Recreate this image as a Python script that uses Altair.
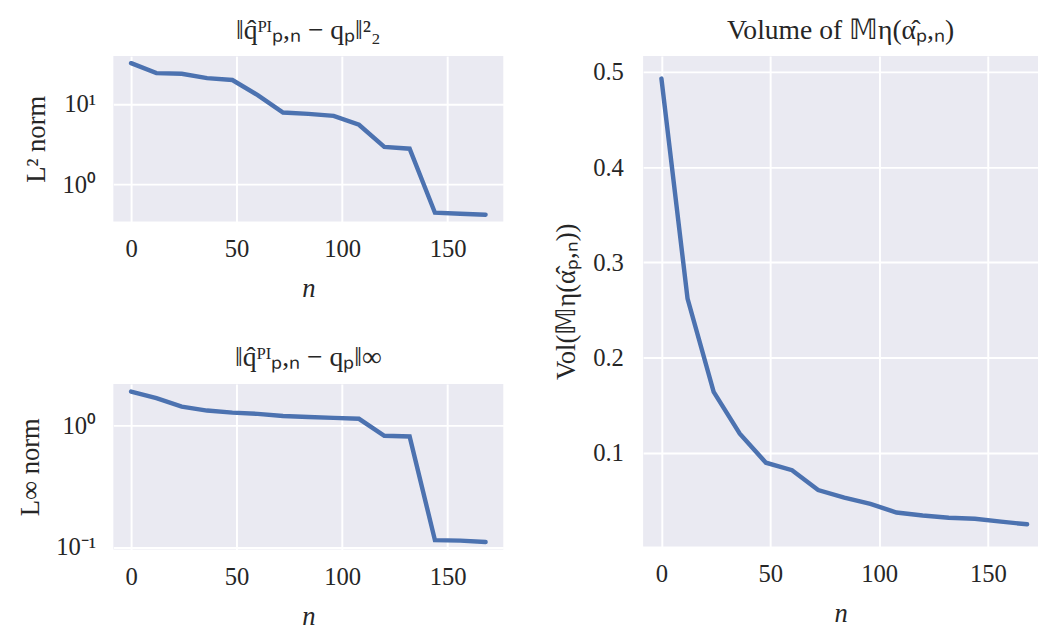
import altair as alt
import pandas as pd

# ---- data ----
n_values = [0, 12, 24, 36, 48, 60, 72, 84, 96, 108, 120, 132, 144, 156, 168]
l2_norm = [32.2, 24.2, 23.8, 21.0, 19.9, 12.9, 7.85, 7.55, 7.13, 5.53, 2.93, 2.79, 0.447, 0.434, 0.422]
linf_norm = [1.89, 1.67, 1.42, 1.32, 1.27, 1.24, 1.19, 1.17, 1.15, 1.13, 0.82, 0.81, 0.114, 0.113, 0.110]
volume = [0.493, 0.262, 0.164, 0.120, 0.0896, 0.0817, 0.0609, 0.0529, 0.0463, 0.0373, 0.0342, 0.0318, 0.0308, 0.0277, 0.0249]

x_ticks = [0, 50, 100, 150]
log_ticks = [0.1, 1, 10]
vol_ticks = [0.1, 0.2, 0.3, 0.4, 0.5]

title_l2 = "‖q̂ᴾᴵₚ,ₙ − qₚ‖²₂"
title_linf = "‖q̂ᴾᴵₚ,ₙ − qₚ‖∞"
title_vol = "Volume of 𝕄η(α̂ₚ,ₙ)"
ylab_l2 = "L² norm"
ylab_linf = "L∞ norm"
ylab_vol = "Vol(𝕄η(α̂ₚ,ₙ))"
xlab = "n"

df = pd.DataFrame({"n": n_values, "l2": l2_norm, "linf": linf_norm, "vol": volume})

LINE = "#4C72B0"
FONT = "Liberation Serif"
log_expr = ("datum.value == 10 ? '10¹' : datum.value == 1 ? '10⁰' : "
            "datum.value == 0.1 ? '10⁻¹' : ''")


def xaxis():
    return alt.Axis(values=x_ticks, title=xlab, titleFontStyle="italic", titlePadding=14)


top = alt.Chart(df, title=alt.Title(title_l2, offset=11)).mark_line(
    color=LINE, strokeWidth=4.5, strokeCap="round", clip=True
).encode(
    x=alt.X("n:Q", scale=alt.Scale(domain=[-8.4, 176.4], nice=False, zero=False), axis=xaxis()),
    y=alt.Y("l2:Q", scale=alt.Scale(type="log", domain=[0.347, 39.4], nice=False),
            axis=alt.Axis(values=log_ticks, labelExpr=log_expr, title=ylab_l2, labelPadding=18)),
).properties(width=396, height=168)

bottom = alt.Chart(df, title=alt.Title(title_linf, offset=12)).mark_line(
    color=LINE, strokeWidth=4.5, strokeCap="round", clip=True
).encode(
    x=alt.X("n:Q", scale=alt.Scale(domain=[-8.4, 176.4], nice=False, zero=False), axis=xaxis()),
    y=alt.Y("linf:Q", scale=alt.Scale(type="log", domain=[0.0957, 2.18], nice=False),
            axis=alt.Axis(values=log_ticks, labelExpr=log_expr, title=ylab_linf, labelPadding=18)),
).properties(width=396, height=168)

right = alt.Chart(df, title=alt.Title(title_vol, offset=11)).mark_line(
    color=LINE, strokeWidth=4.5, strokeCap="round", clip=True
).encode(
    x=alt.X("n:Q", scale=alt.Scale(domain=[-8.4, 173.0], nice=False, zero=False), axis=xaxis()),
    y=alt.Y("vol:Q", scale=alt.Scale(domain=[0.0016, 0.5166], nice=False, zero=False),
            axis=alt.Axis(values=vol_ticks, format=".1f", title=ylab_vol, labelPadding=20)),
).properties(width=401, height=498)

left = alt.vconcat(top, bottom, spacing=44)

chart = alt.hconcat(left, right, spacing=50).properties(
    padding={"left": 8, "top": 5, "right": 0, "bottom": 0}
).configure_view(
    fill="#EAEAF2", stroke=None
).configure_axis(
    grid=True, gridColor="white", gridWidth=2, gridOpacity=1,
    domain=False, ticks=False,
    labelFont=FONT, labelFontSize=25, labelColor="#262626", labelPadding=16,
    titleFont=FONT, titleFontSize=27, titleFontWeight="normal", titleColor="#262626",
    titlePadding=12,
).configure_title(
    font=FONT, fontSize=28, fontWeight="normal", color="#262626", anchor="middle"
)

chart.save("out.html", embed_options={"renderer": "svg", "actions": False})
